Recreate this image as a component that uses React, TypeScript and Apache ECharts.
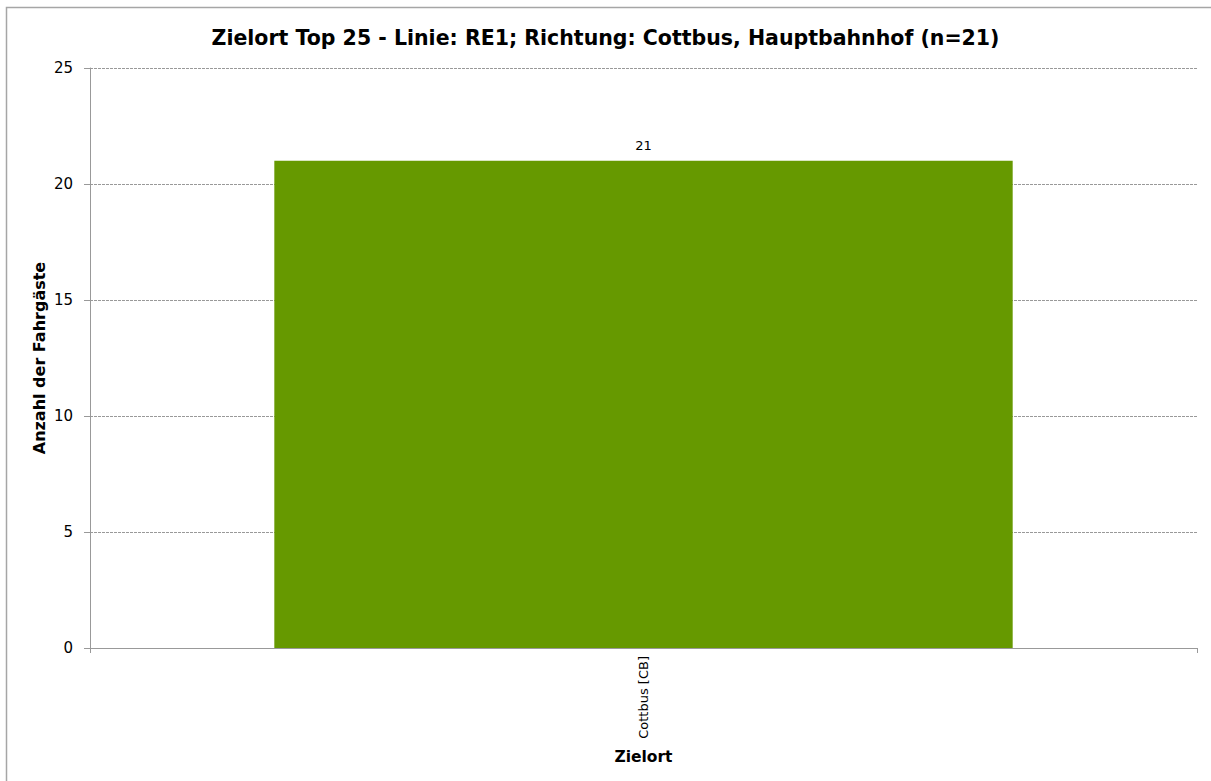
import React, { useEffect, useRef } from "react";
import * as echarts from "echarts";

const titleText = "Zielort Top 25 - Linie: RE1; Richtung: Cottbus, Hauptbahnhof (n=21)";
const categories = ["Cottbus [CB]"];
const values = [21];
const yAxisName = "Anzahl der Fahrgäste";
const xAxisName = "Zielort";

const FONT = "DejaVu Sans, Verdana, sans-serif";

export default function App() {
  const ref = useRef<HTMLDivElement>(null);
  useEffect(() => {
    document.body.style.margin = "0";
    const chart = echarts.init(ref.current!, null, { renderer: "svg" });
    chart.setOption({
      animation: false,
      backgroundColor: "#ffffff",
      textStyle: { fontFamily: FONT },
      title: {
        text: titleText,
        left: "center",
        top: 22,
        textStyle: { fontFamily: FONT, fontSize: 20.5, fontWeight: "bold", color: "#000" },
      },
      graphic: [
        {
          type: "rect",
          shape: { x: 6.5, y: 7.5, width: 1300, height: 900 },
          style: { fill: "none", stroke: "#a6a6a6", lineWidth: 1.5 },
          silent: true,
          z: -10,
        },
      ],
      grid: { left: 90, right: 14, top: 68, bottom: 133, containLabel: false },
      xAxis: {
        type: "category",
        data: categories,
        name: xAxisName,
        nameLocation: "middle",
        nameGap: 101,
        nameTextStyle: { fontFamily: FONT, fontSize: 15.5, fontWeight: "bold", color: "#000" },
        axisLine: { show: true, lineStyle: { color: "#999", width: 1 } },
        axisTick: { show: true, alignWithLabel: false, length: 5, lineStyle: { color: "#999" } },
        axisLabel: { rotate: 90, fontFamily: FONT, fontSize: 13, color: "#000", margin: 8 },
        splitLine: { show: false },
      },
      yAxis: {
        type: "value",
        min: 0,
        max: 25,
        interval: 5,
        name: yAxisName,
        nameLocation: "middle",
        nameGap: 43,
        nameMoveOverlap: false,
        nameTextStyle: { fontFamily: FONT, fontSize: 16, fontWeight: "bold", color: "#000" },
        axisLine: { show: true, lineStyle: { color: "#999", width: 1 } },
        axisTick: { show: true, length: 6, lineStyle: { color: "#999" } },
        axisLabel: { fontFamily: FONT, fontSize: 15, color: "#000", margin: 17 },
        splitLine: { show: true, lineStyle: { color: "#999", type: [3, 1], width: 1 } },
      },
      series: [
        {
          type: "bar",
          data: values,
          barCategoryGap: "33.3%",
          itemStyle: { color: "#669900" },
          label: {
            show: true,
            position: "top",
            distance: 9,
            fontFamily: FONT,
            fontSize: 13,
            color: "#000",
          },
        },
      ],
    });
    return () => chart.dispose();
  }, []);
  return <div ref={ref} style={{ width: 1211, height: 781 }} />;
}
